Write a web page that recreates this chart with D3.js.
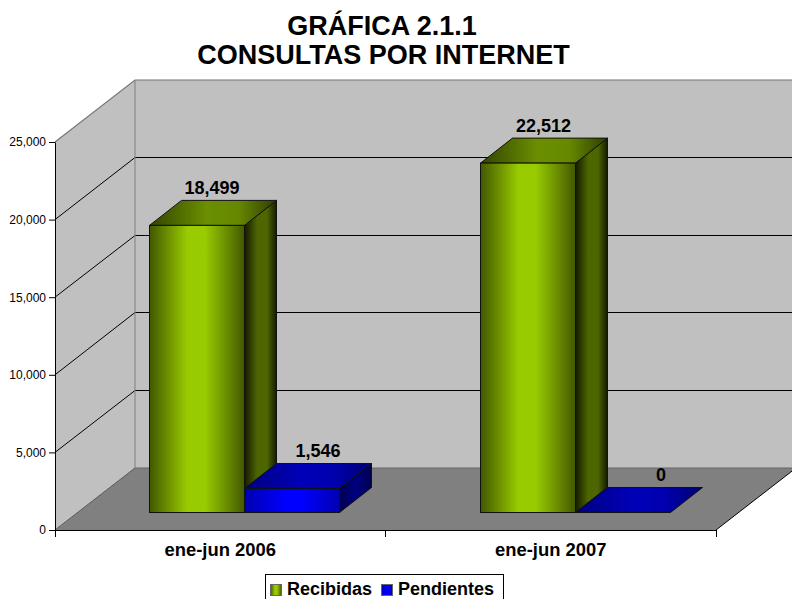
<!DOCTYPE html>
<html lang="es">
<head>
<meta charset="UTF-8">
<title>Consultas por Internet</title>
<script src="https://d3js.org/d3.v7.min.js"></script>
<style>
    html, body { margin: 0; padding: 0; background: #fff; }
    svg { display: block; }
    text { font-family: 'Liberation Sans', Arial, sans-serif; fill: #000; }
    .title { font-size: 27px; font-weight: bold; text-anchor: middle; }
    .value { font-size: 18px; font-weight: bold; text-anchor: middle; }
    .legend-text { font-size: 18px; font-weight: bold; }
</style>
</head>
<body>
<div id="chart"></div>
<script>
var categories = ['ene-jun 2006', 'ene-jun 2007'];
var seriesNames = ['Recibidas', 'Pendientes'];
var recibidas = [18499, 22512];
var pendientes = [1546, 0];
var yTicks = [0, 5000, 10000, 15000, 20000, 25000];
var titleLines = ['GRÁFICA 2.1.1', 'CONSULTAS POR INTERNET'];

var width = 792, height = 599;
var xLeft = 55, xRight = 716, yBottom = 530, yTop = 142;
// depth of the box and of the bars (oblique projection)
var depth = {x: 80, y: -62};
var barDepth = {x: 32, y: -25};
var barFloor = 512.5;
// the value labels are not centred the same way on every bar
var labelShift = [-1, 10, -0.5, 22];

var svg = d3.select('#chart').append('svg')
    .attr('width', width)
    .attr('height', height);

var defs = svg.append('defs');

function gradient(id, stops) {
    var g = defs.append('linearGradient').attr('id', id)
        .attr('x1', 0).attr('x2', 1).attr('y1', 0).attr('y2', 0);
    stops.forEach(function(s) {
        g.append('stop').attr('offset', s[0]).attr('stop-color', s[1]);
    });
}

gradient('green-front', [[0, '#425800'], [0.12, '#5c7a00'], [0.4, '#99cc00'], [0.58, '#99cc00'], [0.88, '#5c7a00'], [1, '#425800']]);
gradient('green-top', [[0, '#334400'], [0.45, '#6b8f00'], [0.7, '#668800'], [1, '#2e3d00']]);
gradient('green-side', [[0, '#141a00'], [0.4, '#4d6600'], [0.7, '#4d6600'], [1, '#141a00']]);
gradient('blue-front', [[0, '#0000b0'], [0.45, '#0000ff'], [0.6, '#0000ff'], [1, '#0000b0']]);
gradient('blue-top', [[0, '#000080'], [0.45, '#0000b8'], [0.7, '#0000b0'], [1, '#000070']]);
gradient('blue-side', [[0, '#000050'], [0.5, '#000080'], [1, '#000050']]);

var x = d3.scaleBand().domain(categories).range([xLeft, xRight]);
var y = d3.scaleLinear().domain([0, 25000]).range([yBottom, yTop]);
var barHeight = function(v) { return yBottom - y(v); };

function poly(pts) {
    return pts.map(function(p) { return p[0] + ',' + p[1]; }).join(' ');
}

// walls and floor
var walls = svg.append('g');
walls.append('polygon')
    .attr('points', poly([[xLeft + depth.x, yTop + depth.y], [xRight + depth.x, yTop + depth.y], [xRight + depth.x, yBottom + depth.y], [xLeft + depth.x, yBottom + depth.y]]))
    .attr('fill', '#c0c0c0');
walls.append('polygon')
    .attr('points', poly([[xLeft, yTop], [xLeft + depth.x, yTop + depth.y], [xLeft + depth.x, yBottom + depth.y], [xLeft, yBottom]]))
    .attr('fill', '#c0c0c0');

// gridlines
yTicks.slice(1, -1).forEach(function(t) {
    var back = Math.floor(y(t) + depth.y) + 0.5;
    walls.append('polyline')
        .attr('points', poly([[xLeft, y(t)], [xLeft + depth.x, back], [xRight + depth.x, back]]))
        .attr('fill', 'none')
        .attr('stroke', '#000')
        .attr('stroke-width', 1);
});

walls.append('polygon')
    .attr('points', poly([[xLeft, yBottom], [xRight, yBottom], [xRight + depth.x, yBottom + depth.y], [xLeft + depth.x, yBottom + depth.y]]))
    .attr('fill', '#808080');
walls.append('polyline')
    .attr('points', poly([[xLeft, yTop], [xLeft + depth.x, yTop + depth.y], [xRight + depth.x, yTop + depth.y]]))
    .attr('fill', 'none').attr('stroke', '#777').attr('stroke-width', 1.2);
walls.append('line')
    .attr('x1', xLeft + depth.x).attr('x2', xLeft + depth.x)
    .attr('y1', yTop + depth.y).attr('y2', yBottom + depth.y)
    .attr('stroke', '#808080');
walls.append('line')
    .attr('x1', xLeft).attr('y1', yBottom)
    .attr('x2', xLeft + depth.x).attr('y2', yBottom + depth.y)
    .attr('stroke', '#555');
walls.append('line')
    .attr('x1', xLeft + depth.x).attr('y1', yBottom + depth.y)
    .attr('x2', xRight + depth.x).attr('y2', yBottom + depth.y)
    .attr('stroke', '#666');
walls.append('line')
    .attr('x1', xRight).attr('y1', yBottom)
    .attr('x2', xRight + depth.x).attr('y2', yBottom + depth.y)
    .attr('stroke', '#000');

// axes
var yAxis = d3.axisLeft(y).tickValues(yTicks).tickFormat(d3.format(',')).tickSize(6).tickSizeOuter(0).tickPadding(3);
var yG = svg.append('g').attr('transform', 'translate(' + xLeft + ',0)').call(yAxis);
yG.selectAll('text').style('font-size', '12px').style('font-family', "'Liberation Sans', Arial, sans-serif");

var xAxis = d3.axisBottom(x).tickSize(0).tickSizeOuter(0).tickPadding(13);
var xG = svg.append('g').attr('transform', 'translate(0,' + yBottom + ')').call(xAxis);
xG.selectAll('text').style('font-size', '18.4px').style('font-weight', 'bold').style('font-family', "'Liberation Sans', Arial, sans-serif");
var xEdges = categories.map(function(c) { return x(c); }).concat([xRight]);
xG.selectAll('.edge').data(xEdges).enter().append('line')
    .attr('class', 'edge')
    .attr('x1', function(d) { return Math.floor(d) + 0.5; }).attr('x2', function(d) { return Math.floor(d) + 0.5; })
    .attr('y1', 0).attr('y2', 7)
    .attr('stroke', '#000');

// bars
var rows = [];
categories.forEach(function(c, i) {
    rows.push({cat: c, series: 'Recibidas', value: recibidas[i], key: 'green'});
    rows.push({cat: c, series: 'Pendientes', value: pendientes[i], key: 'blue'});
});

var inner = d3.scaleBand().domain(seriesNames).range([94.5, 284.5]);

var bars = svg.selectAll('.bar').data(rows).enter().append('g').attr('class', 'bar');

bars.each(function(d, i) {
    var g = d3.select(this);
    var x0 = Math.floor(x(d.cat) + inner(d.series)) + 0.5, x1 = x0 + inner.bandwidth();
    var yb = barFloor, yt = barFloor - barHeight(d.value);
    var dx = barDepth.x, dy = barDepth.y;
    var edge = d.value === 0 ? 'none' : '#111';
    g.append('polygon')
        .attr('points', poly([[x1, yb], [x1 + dx, yb + dy], [x1 + dx, yt + dy], [x1, yt]]))
        .attr('fill', 'url(#' + d.key + '-side)').attr('stroke', edge).attr('stroke-width', 1);
    g.append('polygon')
        .attr('points', poly([[x0, yt], [x0 + dx, yt + dy], [x1 + dx, yt + dy], [x1, yt]]))
        .attr('fill', 'url(#' + d.key + '-top)').attr('stroke', '#111').attr('stroke-width', 1);
    if (d.value > 0) {
        g.append('rect')
            .attr('x', x0).attr('y', yt)
            .attr('width', x1 - x0).attr('height', yb - yt)
            .attr('fill', 'url(#' + d.key + '-front)').attr('stroke', '#111').attr('stroke-width', 1);
    }
    g.append('text')
        .attr('class', 'value')
        .attr('x', x0 + (x1 - x0) / 2 + dx / 2 + labelShift[i])
        .attr('y', yt + dy - 6.5)
        .text(d3.format(',')(d.value));
});

// title
svg.selectAll('.title').data(titleLines).enter().append('text')
    .attr('class', 'title')
    .attr('x', function(d, i) { return i === 0 ? 382 : 383.5; })
    .attr('y', function(d, i) { return 34.5 + i * 29; })
    .text(function(d) { return d; });

// legend
var legend = svg.append('g');
legend.append('rect')
    .attr('x', 265.5).attr('y', 574.5)
    .attr('width', 238).attr('height', 26)
    .attr('fill', '#fff').attr('stroke', '#000');
var legendX = [270.5, 381.5];
seriesNames.forEach(function(s, i) {
    legend.append('rect')
        .attr('x', legendX[i]).attr('y', 584.5)
        .attr('width', 11).attr('height', 11)
        .attr('fill', 'url(#' + (i === 0 ? 'green' : 'blue') + '-front)')
        .attr('stroke', '#666');
    legend.append('text')
        .attr('class', 'legend-text')
        .attr('x', legendX[i] + 16.5).attr('y', 595)
        .text(s);
});
</script>
</body>
</html>
